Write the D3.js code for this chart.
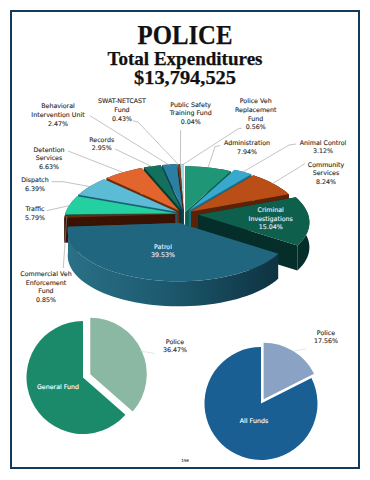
<!DOCTYPE html>
<html>
<head>
<meta charset="utf-8">
<script src="https://cdnjs.cloudflare.com/ajax/libs/d3/7.8.5/d3.min.js"></script>
<style>
html,body{margin:0;padding:0;background:#fff}
svg{display:block;opacity:.999}
</style>
</head>
<body>
<svg id="graf" width="370" height="480"></svg>
<script>
// dati
let fondi = ["Administration","Animal Control","Community Services","Criminal Investigations","Patrol","Commercial Veh Enforcement Fund","Traffic","Dispatch","Detention Services","Records","Behavioral Intervention Unit","SWAT-NETCAST Fund","Public Safety Training Fund","Police Veh Replacement Fund"];
let percentuali = [7.94,3.12,8.24,15.04,39.53,0.85,5.79,6.39,6.63,2.95,2.47,0.43,0.04,0.56];
let colori_top = ["#1f9777","#36a9cc","#b94e16","#0f5f4d","#20667f","#6b2c0c","#24cfa2","#5cbcd5","#e2652d","#12705c","#2a7fa3","#7c3a18","#d5f2f4","#a5dcea"];
let colori_lato = ["#0f5f4c","#1d6d88","#5a2206","#052d2a","#1a5368","#3a1204","#0f7a60","#1e5f78","#6d2c0c","#063c30","#103f58","#3a1204","#90c8d4","#6cb0c4"];
let generale_nomi = ["Police","General Fund"];
let generale_val = [36.47,63.53];
let generale_col = ["#8ab8a3","#1b8a6b"];
let tutti_nomi = ["Police","All Funds"];
let tutti_val = [17.56,82.44];
let tutti_col = ["#8aa3c4","#1a5f94"];

var svg = d3.select("#graf");
var font_lab = "'DejaVu Sans', sans-serif";
var font_tit = "'Liberation Serif', serif";

svg.append("rect").attr("x",11).attr("y",11).attr("width",348).attr("height",457)
    .attr("fill","#fff").attr("stroke","#123a5c").attr("stroke-width",2);

function testo(x, y, righe, col, size, g){
    righe.forEach(function(r,i){
        svg.append("text").attr("x",x).attr("y",y+i*g)
            .attr("text-anchor","middle").attr("dominant-baseline","central")
            .attr("fill",col).attr("stroke",col).attr("stroke-width",0.12)
            .style("font-family",font_lab).style("font-size",size+"px")
            .text(r);
    });
}
function titolo(t, y, size, largo){
    svg.append("text").attr("x",185).attr("y",y).attr("text-anchor","middle")
        .attr("textLength",largo).attr("lengthAdjust","spacingAndGlyphs")
        .style("font-family",font_tit).style("font-weight","bold").style("font-size",size+"px")
        .attr("fill","#111").attr("stroke","#111").attr("stroke-width",0.25).text(t);
}

// titoli
titolo("POLICE",43.5,28,95);
titolo("Total Expenditures",65,19,155);
titolo("$13,794,525",84,18,102);

// torta 3d: proiezione con un po' di prospettiva
var cx = 184, cy = 214, rx = 110, ry = 52, prof = 25;
function proietta(a, r){
    var d = -Math.cos(a)*r;
    return [rx*Math.sin(a)*r*(1+0.15*d), ry*d*(1+0.12*d)];
}
var archi = d3.pie().sort(null).value(function(d){return d;}).startAngle(0).endAngle(2*Math.PI)(percentuali);
var linea = d3.line();

function scoppio(i){
    if (fondi[i]=="Patrol") return 0.18;
    if (fondi[i]=="Criminal Investigations") return 0.13;
    if (i==0) return 0.04;
    return 0.08;
}
var spicchi = archi.map(function(d,i){
    var mid = (d.startAngle+d.endAngle)/2, e = scoppio(i);
    return {i:i, a0:d.startAngle, a1:d.endAngle, mid:mid,
        ox:cx+rx*Math.sin(mid)*e, oy:cy-ry*Math.cos(mid)*e};
});
spicchi.sort(function(a,b){ return (-Math.cos(a.mid)) - (-Math.cos(b.mid)); });

var def = svg.append("defs").append("linearGradient").attr("id","latoPatrol")
    .attr("gradientUnits","userSpaceOnUse").attr("x1",68).attr("x2",280).attr("y1",0).attr("y2",0);
def.append("stop").attr("offset","0").attr("stop-color","#2a7086");
def.append("stop").attr("offset","0.45").attr("stop-color","#1d5a70");
def.append("stop").attr("offset","1").attr("stop-color","#0e3240");

function puntiArco(s, sotto){
    var n = Math.max(2, Math.ceil((s.a1-s.a0)/0.05));
    return d3.range(n+1).map(function(k){
        var a = s.a0+(s.a1-s.a0)*k/n, p = proietta(a,1);
        return [s.ox+p[0], s.oy+p[1]+(sotto?prof:0)];
    });
}

var gPie = svg.append("g");
spicchi.forEach(function(s){
    var top = puntiArco(s,false), bot = puntiArco(s,true);
    var lato = colori_lato[s.i];
    var g = gPie.append("g");
    // facce radiali
    [top[0], top[top.length-1]].forEach(function(p){
        g.append("path").attr("fill",lato)
            .attr("d", linea([[s.ox,s.oy],p,[p[0],p[1]+prof],[s.ox,s.oy+prof]])+"Z");
    });
    // bordo esterno
    g.append("path")
        .attr("fill", fondi[s.i]=="Patrol" ? "url(#latoPatrol)" : lato)
        .attr("d", linea(top.concat(bot.slice().reverse()))+"Z");
    // faccia superiore
    g.append("path").attr("fill",colori_top[s.i])
        .attr("d", linea([[s.ox,s.oy]].concat(top))+"Z");
});

// etichette e linee guida: [nome, x, y prima riga, righe, inizio linea]
var etichette = [
    [0,247,142.7,["Administration","7.94%"],[[220,145.7],[215,146.7]]],
    [1,323,142,["Animal Control","3.12%"],[[296,144],[289,145]]],
    [2,326,164,["Community","Services","8.24%"],[[305,163.3],[298,168]]],
    [5,46,273.3,["Commercial Veh","Enforcement","Fund","0.85%"],[[63.3,268]]],
    [6,35,208.7,["Traffic","5.79%"],[[46.7,210.7]]],
    [7,35,179.3,["Dispatch","6.39%"],[[51.7,181.7],[63,181.7]]],
    [8,49,149,["Detention","Services","6.63%"],[[68,151]]],
    [9,101.7,139,["Records","2.95%"],[[115,149]]],
    [10,58,105.7,["Behavioral","Intervention Unit","2.47%"],[[90,115.7]]],
    [11,122,100.7,["SWAT-NETCAST","Fund","0.43%"],[[133,120.7],[138,122]]],
    [12,190.7,104,["Public Safety","Training Fund","0.04%"],[[180.7,130]]],
    [13,255.7,100.7,["Police Veh","Replacement","Fund","0.56%"],[[241.7,128.3],[239,128.3]]]
];
var perIndice = {};
spicchi.forEach(function(s){ perIndice[s.i]=s; });
etichette.forEach(function(e){
    var s = perIndice[e[0]], p = proietta(s.mid,1);
    svg.append("path").attr("fill","none").attr("stroke","#9a9a9a").attr("stroke-width",0.6)
        .attr("d", linea(e[4].concat([[s.ox+p[0]*0.98, s.oy+p[1]*0.98]])));
    testo(e[1],e[2],e[3],"#2a2a2a",6.3,8.7);
});
testo(270.7,209.3,["Criminal","Investigations","15.04%"],"#eef",6.3,8.8);
testo(163,246,["Patrol","39.53%"],"#eef",6.3,8.8);

// torte piccole
function tortina(val, col, x, y, r, sc){
    var a = d3.pie().sort(null).value(function(d){return d;})(val);
    var arco = d3.arc().innerRadius(0).outerRadius(r);
    a.forEach(function(d,i){
        var m = (d.startAngle+d.endAngle)/2, off = i==0 ? sc : 0;
        svg.append("path").attr("d",arco(d)).attr("fill",col[i])
            .attr("transform","translate("+(x+Math.sin(m)*off)+","+(y-Math.cos(m)*off)+")");
    });
}
tortina(generale_val, generale_col, 83, 377.5, 56.5, 8);
tortina(tutti_val, tutti_col, 261, 403.5, 56.5, 5);

svg.append("path").attr("fill","none").attr("stroke","#d5d5d5").attr("stroke-width",0.6)
    .attr("d",linea([[140,351],[155,353.5]]));
svg.append("path").attr("fill","none").attr("stroke","#d5d5d5").attr("stroke-width",0.6)
    .attr("d",linea([[293,351],[306,349]]));

testo(175,341,[generale_nomi[0],generale_val[0].toFixed(2)+"%"],"#2a2a2a",6.3,8.5);
testo(58,386.5,[generale_nomi[1]],"#fff",6.3,8.5);
testo(326,332,[tutti_nomi[0],tutti_val[0].toFixed(2)+"%"],"#2a2a2a",6.3,8.5);
testo(254,420.5,[tutti_nomi[1]],"#fff",6.3,8.5);
testo(185,460.5,["196"],"#444",4,5);
</script>
</body>
</html>
